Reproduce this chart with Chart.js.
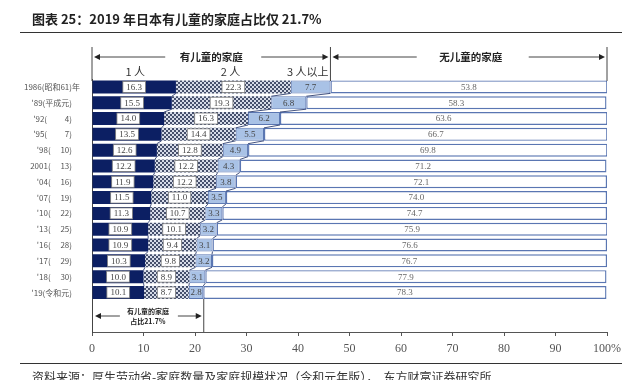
<!DOCTYPE html>
<html>
<head>
<meta charset="utf-8">
<script src="https://cdn.jsdelivr.net/npm/chart.js@4/dist/chart.umd.min.js"></script>
<style>
  html,body{margin:0;padding:0;background:#fff;}
  #wrap{position:relative;width:642px;height:380px;overflow:hidden;background:#fff;}
  #c{position:absolute;left:0;top:0;}
  #title{position:absolute;left:32px;top:9px;font:bold 13px 'Noto Sans CJK SC',sans-serif;color:#222;white-space:nowrap;}
  .rule{position:absolute;left:20px;width:602px;border-top:1.5px solid #333;}
  #src{position:absolute;left:32px;top:368px;font:12px 'Noto Sans CJK SC',sans-serif;color:#333;white-space:nowrap;}
</style>
</head>
<body>
<div id="wrap">
  <canvas id="c" width="642" height="380"></canvas>
  <div id="title">图表 25：2019 年日本有儿童的家庭占比仅 21.7%</div>
  <div class="rule" style="top:32px"></div>
  <div class="rule" style="top:363px"></div>
  <div id="src">资料来源：厚生劳动省-家庭数量及家庭规模状况（令和元年版），&nbsp;&nbsp;东方财富证券研究所</div>
</div>
<script>
// ---- data ----
const years = ["1986(昭和61)年", "'89(平成元)\u3000", "'92(\u3000\u3000 4)\u3000", "'95(\u3000\u3000 7)\u3000", "'98(\u3000 10)\u3000", "2001(\u3000 13)\u3000", "'04(\u3000 16)\u3000", "'07(\u3000 19)\u3000", "'10(\u3000 22)\u3000", "'13(\u3000 25)\u3000", "'16(\u3000 28)\u3000", "'17(\u3000 29)\u3000", "'18(\u3000 30)\u3000", "'19(令和元)\u3000"];
const oneChild    = [16.3, 15.5, 14.0, 13.5, 12.6, 12.2, 11.9, 11.5, 11.3, 10.9, 10.9, 10.3, 10.0, 10.1];
const twoChildren = [22.3, 19.3, 16.3, 14.4, 12.8, 12.2, 12.2, 11.0, 10.7, 10.1, 9.4, 9.8, 8.9, 8.7];
const threePlus   = [7.7, 6.8, 6.2, 5.5, 4.9, 4.3, 3.8, 3.5, 3.3, 3.2, 3.1, 3.2, 3.1, 2.8];
const noChildren  = [53.8, 58.3, 63.6, 66.7, 69.8, 71.2, 72.1, 74.0, 74.7, 75.9, 76.6, 76.7, 77.9, 78.3];
const xTickValues = [0, 10, 20, 30, 40, 50, 60, 70, 80, 90, 100];
const seriesNames = ["1 人", "2 人", "3 人以上", "无儿童的家庭"];
const shareWithChildren = 21.7;

// two empty rows below the bars leave room for the share bracket
const labels = years.concat(["", ""]);
const pad = a => a.concat([null, null]);

// checkered pattern for "2 人"
function makePattern(){
  const p = document.createElement('canvas');
  p.width = 4; p.height = 4;
  const g = p.getContext('2d');
  g.fillStyle = '#d6dbe8'; g.fillRect(0,0,4,4);
  g.fillStyle = '#46506c';
  g.fillRect(0,0,2,2); g.fillRect(2,2,2,2);
  return g.createPattern(p,'repeat');
}
const ctx0 = document.getElementById('c').getContext('2d');
const checker = makePattern();

const NAVY = '#0c1f63';
const EDGE = '#5a76b2';
const SERIF = "'Liberation Serif', 'DejaVu Serif', serif";
const CJK = "'Noto Sans CJK SC', sans-serif";

function arrow(ctx, x1, y, x2){
  const dir = Math.sign(x2 - x1);
  ctx.beginPath(); ctx.moveTo(x1, y); ctx.lineTo(x2 - dir*4, y); ctx.stroke();
  ctx.beginPath();
  ctx.moveTo(x2, y); ctx.lineTo(x2 - dir*6, y - 3); ctx.lineTo(x2 - dir*6, y + 3); ctx.closePath(); ctx.fill();
}

const overlay = {
  id: 'overlay',
  afterDatasetsDraw(chart){
    const ctx = chart.ctx;
    const xs = chart.scales.x;
    const metas = [0,1,2,3].map(i => chart.getDatasetMeta(i));
    const n = years.length;
    // series connector lines
    ctx.save();
    ctx.strokeStyle = '#2f3f70'; ctx.lineWidth = 0.9;
    const series = [oneChild, twoChildren, threePlus];
    for (let i = 0; i < n - 1; i++){
      let c1 = 0, c2 = 0;
      for (let k = 0; k < 3; k++){
        c1 += series[k][i]; c2 += series[k][i+1];
        const a = metas[0].data[i], b = metas[0].data[i+1];
        const yb = a.y + a.height/2, yt = b.y - b.height/2;
        ctx.beginPath();
        ctx.moveTo(xs.getPixelForValue(c1), yb);
        ctx.lineTo(xs.getPixelForValue(c2), yt);
        ctx.stroke();
      }
    }
    // value labels
    ctx.font = '9px ' + SERIF;
    ctx.textAlign = 'center'; ctx.textBaseline = 'middle';
    const data = [oneChild, twoChildren, threePlus, noChildren];
    for (let d = 0; d < 4; d++){
      metas[d].data.forEach((el, i) => {
        if (i >= n) return;
        const txt = data[d][i].toFixed(1);
        const cx = (el.x + el.base) / 2, cy = el.y;
        if (d < 2){
          const w = ctx.measureText(txt).width + 7;
          ctx.fillStyle = '#fff';
          ctx.fillRect(cx - w/2, cy - 5.5, w, 11);
          ctx.strokeStyle = '#7a7a7a'; ctx.lineWidth = 0.8;
          ctx.strokeRect(cx - w/2, cy - 5.5, w, 11);
        }
        ctx.fillStyle = d === 3 ? '#666' : '#444';
        ctx.fillText(txt, cx, cy + 0.5);
      });
    }
    ctx.restore();
  },
  afterDraw(chart){
    const ctx = chart.ctx;
    const xs = chart.scales.x, area = chart.chartArea;
    const first = oneChild[0] + twoChildren[0] + threePlus[0];
    const xL = xs.getPixelForValue(0), xM = xs.getPixelForValue(first), xR = xs.getPixelForValue(100);
    ctx.save();
    ctx.strokeStyle = '#444'; ctx.fillStyle = '#222'; ctx.lineWidth = 1;
    // vertical guide lines above plot
    [xL, xM, xR].forEach(x => { ctx.beginPath(); ctx.moveTo(x, 47); ctx.lineTo(x, area.top + 2); ctx.stroke(); });
    // top headers with arrows
    const yA = 57;
    ctx.font = 'bold 10.5px ' + CJK;
    ctx.textAlign = 'center'; ctx.textBaseline = 'middle';
    const cWith = (xL + xM) / 2, cNo = (xM + xR) / 2 + 2;
    ctx.fillText('有儿童的家庭', cWith, yA);
    ctx.fillText(seriesNames[3], cNo, yA);
    arrow(ctx, cWith - 46, yA, xL + 2);
    arrow(ctx, cWith + 50, yA, xM - 2);
    arrow(ctx, cNo - 54, yA, xM + 2);
    arrow(ctx, cNo + 58, yA, xR - 2);
    // sub headers
    ctx.font = '11px ' + CJK;
    ctx.fillStyle = '#333';
    ctx.fillText(seriesNames[0], xs.getPixelForValue(8.4), 72);
    ctx.fillText(seriesNames[1], xs.getPixelForValue(26.9), 72);
    ctx.fillText(seriesNames[2], xs.getPixelForValue(41.9), 72);
    // bottom share bracket
    const last = chart.getDatasetMeta(0).data[years.length - 1];
    const yTop = last.y + last.height/2;
    const xS = xs.getPixelForValue(shareWithChildren);
    ctx.strokeStyle = '#444';
    ctx.beginPath(); ctx.moveTo(xS, yTop); ctx.lineTo(xS, area.bottom); ctx.stroke();
    const cx = (xL + xS) / 2;
    ctx.font = 'bold 7px ' + CJK; ctx.fillStyle = '#222';
    ctx.fillText('有儿童的家庭', cx, 311);
    ctx.fillText('占比21.7%', cx, 321);
    arrow(ctx, cx - 28, 316, xL + 3);
    arrow(ctx, cx + 30, 316, xS - 2);
    ctx.restore();
  }
};

new Chart(ctx0, {
  type: 'bar',
  data: {
    labels: labels,
    datasets: [
      { label: seriesNames[0], data: pad(oneChild), backgroundColor: NAVY, borderColor: NAVY, borderWidth: 0 },
      { label: seriesNames[1], data: pad(twoChildren), backgroundColor: checker, borderColor: '#5a6078', borderWidth: 0 },
      { label: seriesNames[2], data: pad(threePlus), backgroundColor: '#a9c2e6', borderColor: EDGE, borderWidth: 1, borderSkipped: false },
      { label: seriesNames[3], data: pad(noChildren), backgroundColor: '#ffffff', borderColor: EDGE, borderWidth: 1.4, borderSkipped: false }
    ]
  },
  options: {
    indexAxis: 'y',
    responsive: false,
    animation: false,
    devicePixelRatio: 1,
    layout: { padding: { top: 79, right: 35, left: 0, bottom: 0 } },
    datasets: { bar: { barPercentage: 0.82, categoryPercentage: 1.0 } },
    plugins: { legend: { display: false }, tooltip: { enabled: false }, title: { display: false } },
    scales: {
      x: {
        stacked: true, min: 0, max: 100,
        afterBuildTicks(s){ s.ticks = xTickValues.map(v => ({ value: v })); },
        afterFit(s){ s.height = 48; },
        ticks: { padding: 6, color: '#555', font: { family: SERIF, size: 12 }, callback: v => v === 100 ? '100%' : String(v) },
        grid: { drawOnChartArea: false, drawTicks: true, tickLength: 4, color: '#555' },
        border: { display: true, color: '#555', width: 1 }
      },
      y: {
        stacked: true,
        afterFit(s){ s.width = 92; },
        ticks: { padding: 4, color: '#555', font: { family: CJK, size: 8 }, autoSkip: false },
        grid: { display: false },
        border: { display: true, color: '#444', width: 1 }
      }
    }
  },
  plugins: [overlay]
});
</script>
</body>
</html>
